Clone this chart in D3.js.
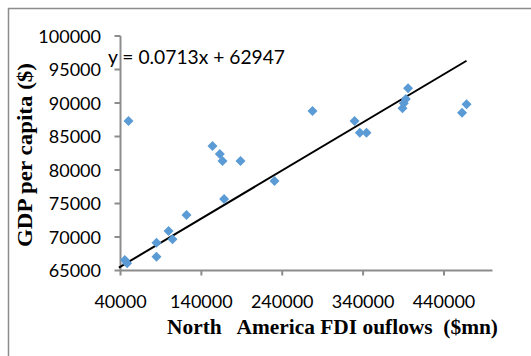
<!DOCTYPE html>
<html lang="en">
<head>
<meta charset="UTF-8">
<title>GDP per capita vs FDI outflows</title>
<script src="https://d3js.org/d3.v7.min.js"></script>
<style>
    body { margin: 0; padding: 0; background: #fff; }
    svg { display: block; }
    .tick-label { font-family: 'Lato', sans-serif; font-size: 18px; fill: #000; }
    .axis-title { font-family: 'Liberation Serif', serif; font-weight: bold; font-size: 20px; fill: #000; white-space: pre; }
</style>
</head>
<body>
<svg id="chart" width="531" height="356"></svg>
<script>
// FDI outflows ($mn) and GDP per capita ($)
var fdiOut = [45300, 48200, 49900, 84500, 84500, 99400, 104300, 121600, 153800, 162800,
              166100, 168100, 188400, 230400, 277400, 329400, 335900, 344200, 388700, 390300,
              392800, 395600, 462400, 467900];
var gdpPc  = [66570, 66070, 87310, 69150, 67060, 70900, 69660, 73280, 83580, 82390,
              81340, 75670, 81340, 78360, 88810, 87310, 85570, 85570, 89210, 89960,
              90600, 92190, 88550, 89810];

var xTicks = [40000, 140000, 240000, 340000, 440000];
var yTicks = [65000, 70000, 75000, 80000, 85000, 90000, 95000, 100000];

var slope = 0.0713, intercept = 62947;
var eqText = "y = 0.0713x + 62947";

var svg = d3.select("#chart");

// outer chart border (right and bottom run off the picture)
svg.append("rect")
    .attr("x", 8.5).attr("y", 8.5)
    .attr("width", 600).attr("height", 400)
    .attr("fill", "#fff")
    .attr("stroke", "#8c8c8c")
    .attr("stroke-width", 1.5);

var x = d3.scaleLinear().domain([40000, 500000]).range([120.5, 492.5]);
var y = d3.scaleLinear().domain([65000, 100000]).range([270.5, 36]);

var axisColor = "#8c8c8c";

// y axis
var gy = svg.append("g");
gy.append("line")
    .attr("x1", x(40000)).attr("x2", x(40000))
    .attr("y1", y(100000)).attr("y2", y(65000))
    .attr("stroke", axisColor).attr("stroke-width", 2);
gy.selectAll(".yt").data(yTicks).enter().append("line")
    .attr("x1", x(40000) - 6).attr("x2", x(40000))
    .attr("y1", function(d) { return y(d); })
    .attr("y2", function(d) { return y(d); })
    .attr("stroke", axisColor).attr("stroke-width", 2);
gy.selectAll(".yl").data(yTicks).enter().append("text")
    .attr("class", "tick-label")
    .attr("x", 101)
    .attr("y", function(d) { return y(d) + 6.5; })
    .attr("text-anchor", "end")
    .text(function(d) { return d; });

// x axis
var gx = svg.append("g");
gx.append("line")
    .attr("x1", x(40000)).attr("x2", x(500000))
    .attr("y1", y(65000)).attr("y2", y(65000))
    .attr("stroke", axisColor).attr("stroke-width", 2);
gx.selectAll(".xt").data(xTicks).enter().append("line")
    .attr("x1", function(d) { return x(d); })
    .attr("x2", function(d) { return x(d); })
    .attr("y1", y(65000)).attr("y2", y(65000) + 5)
    .attr("stroke", axisColor).attr("stroke-width", 2);
gx.selectAll(".xl").data(xTicks).enter().append("text")
    .attr("class", "tick-label")
    .attr("x", function(d) { return x(d); })
    .attr("y", 308)
    .attr("text-anchor", "middle")
    .text(function(d) { return d; });

// linear trendline
var xMin = 38000, xMax = d3.max(fdiOut);
svg.append("line")
    .attr("x1", x(xMin)).attr("y1", y(slope * xMin + intercept) + 1.5)
    .attr("x2", x(xMax)).attr("y2", y(slope * xMax + intercept))
    .attr("stroke", "#000").attr("stroke-width", 2);

// diamond markers
var r = 5;
svg.selectAll(".pt").data(fdiOut).enter().append("path")
    .attr("d", function(d, i) {
        var cx = x(d), cy = y(gdpPc[i]);
        return "M" + cx + "," + (cy - r) + "L" + (cx + r) + "," + cy +
               "L" + cx + "," + (cy + r) + "L" + (cx - r) + "," + cy + "Z";
    })
    .attr("fill", "#5b9bd5");

// equation
svg.append("text")
    .attr("class", "tick-label")
    .style("font-size", "19px")
    .attr("x", 108)
    .attr("y", 64)
    .attr("textLength", 177)
    .attr("lengthAdjust", "spacingAndGlyphs")
    .text(eqText);

// axis titles
svg.append("text")
    .attr("class", "axis-title")
    .attr("x", 167).attr("y", 334)
    .attr("textLength", 331)
    .attr("lengthAdjust", "spacingAndGlyphs")
    .text("North   America FDI ouflows  ($mn)");

svg.append("text")
    .attr("class", "axis-title")
    .attr("transform", "translate(32,247) rotate(-90)")
    .attr("textLength", 184)
    .attr("lengthAdjust", "spacingAndGlyphs")
    .text("GDP per capita ($)");
</script>
</body>
</html>
